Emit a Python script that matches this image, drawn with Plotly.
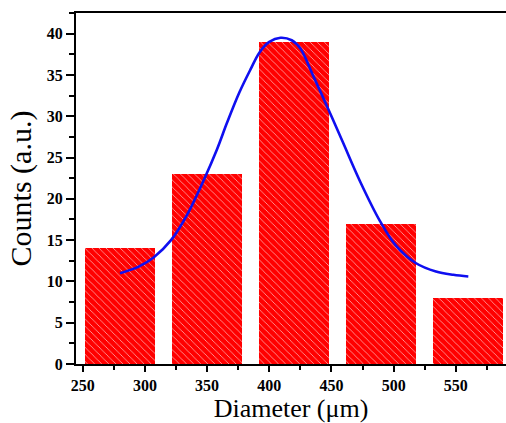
import plotly.graph_objects as go

# Histogram bars
bin_centers = [280, 350, 420, 490, 560]
counts = [14, 23, 39, 17, 8]
bar_width = 56

# Fitted curve
fit_x = [280, 295, 307, 321, 334, 348, 358, 366, 376, 385, 392, 400, 409, 418, 425,
         435, 447, 459, 473, 489, 502, 518, 534, 548, 560]
fit_y = [11.0, 11.8, 12.9, 15.0, 18.1, 22.5, 26.0, 29.2, 32.9, 35.7, 37.7, 39.0, 39.5,
         39.2, 38.2, 35.0, 31.0, 26.9, 22.1, 17.3, 14.3, 12.2, 11.2, 10.8, 10.6]

x_ticks = [250, 300, 350, 400, 450, 500, 550]
y_ticks = [0, 5, 10, 15, 20, 25, 30, 35, 40]

FONT = "Liberation Serif"

fig = go.Figure()
fig.add_trace(go.Bar(
    x=bin_centers, y=counts, width=bar_width,
    marker=dict(color="#FF0000", line=dict(width=0),
                pattern=dict(shape="\\", fgcolor="white", bgcolor="#FF0000",
                             size=5, solidity=0.15, fgopacity=0.7)),
    showlegend=False,
))
fig.add_trace(go.Scatter(
    x=fit_x, y=fit_y, mode="lines",
    line=dict(color="#0F0FF0", width=2.6, shape="spline", smoothing=1.0),
    showlegend=False,
))

fig.update_layout(
    width=506, height=423,
    margin=dict(l=76, r=0, t=13, b=59, autoexpand=False),
    paper_bgcolor="white", plot_bgcolor="white",
    font=dict(family=FONT, color="black"),
    bargap=0,
)
fig.update_xaxes(
    range=[244.6, 590.3], tickvals=x_ticks, ticktext=[str(v) for v in x_ticks],
    showgrid=False, zeroline=False,
    showline=True, linecolor="black", linewidth=2, mirror=True,
    ticks="outside", ticklen=6, tickwidth=1.5, tickcolor="black",
    minor=dict(dtick=25, tick0=250, ticks="outside", ticklen=4, tickwidth=1.5, tickcolor="black"),
    tickfont=dict(family=FONT, size=16, color="black", weight="bold"),
    title=dict(text="Diameter (μm)", font=dict(family=FONT, size=26, color="black"), standoff=0),
    automargin=False,
)
fig.update_yaxes(
    range=[0, 42.5], tickvals=y_ticks, ticktext=[str(v) for v in y_ticks],
    showgrid=False, zeroline=False,
    showline=True, linecolor="black", linewidth=2, mirror=False,
    ticks="outside", ticklen=8, tickwidth=1.5, tickcolor="black",
    minor=dict(dtick=2.5, tick0=0, ticks="outside", ticklen=5, tickwidth=1.5, tickcolor="black"),
    tickfont=dict(family=FONT, size=16, color="black", weight="bold"),
    title=dict(text="Counts (a.u.)", font=dict(family=FONT, size=30, color="black"), standoff=6),
    automargin=False,
)

fig.write_html("out.html", config={"displayModeBar": False},
               post_script="document.body.style.margin='0';document.body.style.overflow='hidden';")
